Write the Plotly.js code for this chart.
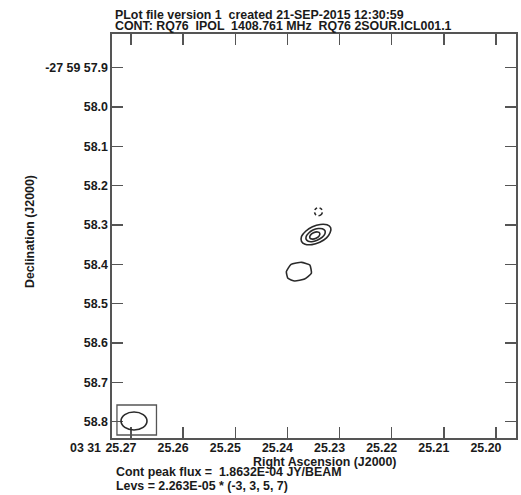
<!DOCTYPE html>
<html><head><meta charset="utf-8">
<script src="https://cdn.plot.ly/plotly-3.0.1.min.js"></script>
<style>html,body{margin:0;padding:0;background:#fff;} #plot{width:521px;height:495px;}</style>
</head><body><div id="plot"></div>
<script>
// ---- data ----
const raTicks = [25.27, 25.26, 25.25, 25.24, 25.23, 25.22, 25.21, 25.20];
const raTickText = ['25.27', '25.26', '25.25', '25.24', '25.23', '25.22', '25.21', '25.20'];
const raPrefix = '03 31';
const decTicks = [57.9, 58.0, 58.1, 58.2, 58.3, 58.4, 58.5, 58.6, 58.7, 58.8];
const decTickText = ['-27 59 57.9', '58.0', '58.1', '58.2', '58.3', '58.4', '58.5', '58.6', '58.7', '58.8'];

const rms = '2.263E-05';
const peakFlux = '1.8632E-04';
const levels = [-3, 3, 5, 7];

// contour rings (RA seconds, Dec arcsec)
const ringA3Ra  = [25.2317, 25.2318, 25.2325, 25.2338, 25.2353, 25.2366, 25.2373, 25.2373, 25.2365, 25.2352, 25.2337, 25.2324];
const ringA3Dec = [58.3069, 58.3191, 58.3325, 58.3437, 58.3498, 58.3488, 58.3414, 58.3292, 58.3158, 58.3046, 58.2985, 58.2995];
const ringA5Ra  = [25.2328, 25.2328, 25.2333, 25.2342, 25.2351, 25.2360, 25.2364, 25.2364, 25.2359, 25.2351, 25.2341, 25.2333];
const ringA5Dec = [58.3142, 58.3219, 58.3308, 58.3381, 58.3419, 58.3414, 58.3366, 58.3290, 58.3201, 58.3127, 58.3089, 58.3094];
const ringA7Ra  = [25.2338, 25.2339, 25.2345, 25.2352, 25.2357, 25.2356, 25.2350, 25.2342];
const ringA7Dec = [58.3208, 58.3274, 58.3336, 58.3358, 58.3326, 58.3260, 58.3198, 58.3176];
const ringB3Ra  = [25.2402, 25.2393, 25.2373, 25.2357, 25.2354, 25.2367, 25.2386, 25.2399];
const ringB3Dec = [58.4187, 58.3999, 58.3948, 58.4017, 58.4228, 58.4373, 58.4424, 58.4355];
const ringNegRa  = [25.2333, 25.2335, 25.2341, 25.2346, 25.2348, 25.2346, 25.2341, 25.2335];
const ringNegDec = [58.2662, 58.2733, 58.2764, 58.2733, 58.2662, 58.2591, 58.2560, 58.2591];

// beam (restoring beam ellipse, lower-left corner)
const beamCenterRa = 25.26942, beamCenterDec = 58.7982;
const beamHalfRa = 0.00249, beamHalfDec = 0.0229;
const beamBoxRa = [25.27269, 25.26511], beamBoxDec = [58.7575, 58.8338];

// ---- drawing ----
const FONT = {family: 'Liberation Sans, Arial, sans-serif', size: 12.4, color: '#1a1a1a', weight: 700};
const close = a => a.concat([a[0]]);
function ring(ra, dec, dashed, smooth) {
  return {x: close(ra), y: close(dec), type: 'scatter', mode: 'lines',
    line: {color: '#2a2a2a', width: 1.6, shape: 'spline', smoothing: smooth == null ? 1 : smooth,
           dash: dashed ? '3px,2.5px' : 'solid'},
    hoverinfo: 'skip', showlegend: false};
}
const traces = [
  ring(ringA3Ra, ringA3Dec), ring(ringA5Ra, ringA5Dec), ring(ringA7Ra, ringA7Dec),
  ring(ringB3Ra, ringB3Dec, false, 0.45), ring(ringNegRa, ringNegDec, true)
];

const axCommon = {showgrid: false, zeroline: false, showline: true, linecolor: '#555', linewidth: 1.6,
  mirror: 'ticks', ticks: 'inside', ticklen: 11, tickwidth: 1.5, tickcolor: '#555', tickfont: FONT};

const layout = {
  width: 521, height: 495,
  margin: {l: 112, r: 5, t: 34, b: 57},
  paper_bgcolor: '#fff', plot_bgcolor: '#fff',
  xaxis: Object.assign({}, axCommon, {range: [25.27364, 25.19616], tickmode: 'array',
    tickvals: raTicks, ticktext: raTickText, ticklabelshift: 10, ticklabelstandoff: -2}),
  yaxis: Object.assign({}, axCommon, {range: [58.8414, 57.8143], tickmode: 'array',
    tickvals: decTicks, ticktext: decTickText}),
  shapes: [
    {type: 'rect', xref: 'x', yref: 'y', x0: beamBoxRa[0], x1: beamBoxRa[1], y0: beamBoxDec[0], y1: beamBoxDec[1],
     line: {color: '#555', width: 1.3}},
    {type: 'circle', xref: 'x', yref: 'y', x0: beamCenterRa + beamHalfRa, x1: beamCenterRa - beamHalfRa,
     y0: beamCenterDec - beamHalfDec, y1: beamCenterDec + beamHalfDec, line: {color: '#2a2a2a', width: 1.6}}
  ],
  annotations: [
    {text: 'PLot file version 1  created 21-SEP-2015 12:30:59', xref: 'paper', yref: 'paper', x: 0, y: 1,
     xanchor: 'left', yanchor: 'middle', xshift: 1, yshift: 19, showarrow: false, font: FONT},
    {text: 'CONT: RQ76  IPOL  1408.761 MHz  RQ76 2SOUR.ICL001.1', xref: 'paper', yref: 'paper', x: 0, y: 1,
     xanchor: 'left', yanchor: 'middle', xshift: 1, yshift: 8, showarrow: false, font: FONT},
    {text: raPrefix, xref: 'paper', yref: 'paper', x: 0, y: 0, xanchor: 'right', yanchor: 'middle',
     xshift: -9, yshift: -10, showarrow: false, font: FONT},
    {text: 'Right Ascension (J2000)', xref: 'paper', yref: 'paper', x: 0.5, y: 0, xanchor: 'center', yanchor: 'middle',
     xshift: 10, yshift: -24, showarrow: false, font: FONT},
    {text: 'Declination (J2000)', xref: 'paper', yref: 'paper', x: 0, y: 0.5, xanchor: 'center', yanchor: 'middle',
     textangle: -90, xshift: -82, yshift: 4, showarrow: false, font: FONT},
    {text: 'Cont peak flux =  ' + peakFlux + ' JY/BEAM', xref: 'paper', yref: 'paper', x: 0, y: 0,
     xanchor: 'left', yanchor: 'middle', xshift: 2, yshift: -34, showarrow: false, font: FONT},
    {text: 'Levs = ' + rms + ' * (' + levels.join(', ') + ')', xref: 'paper', yref: 'paper', x: 0, y: 0,
     xanchor: 'left', yanchor: 'middle', xshift: 2, yshift: -48, showarrow: false, font: FONT}
  ]
};
Plotly.newPlot('plot', traces, layout, {staticPlot: true, displayModeBar: false});
</script></body></html>
